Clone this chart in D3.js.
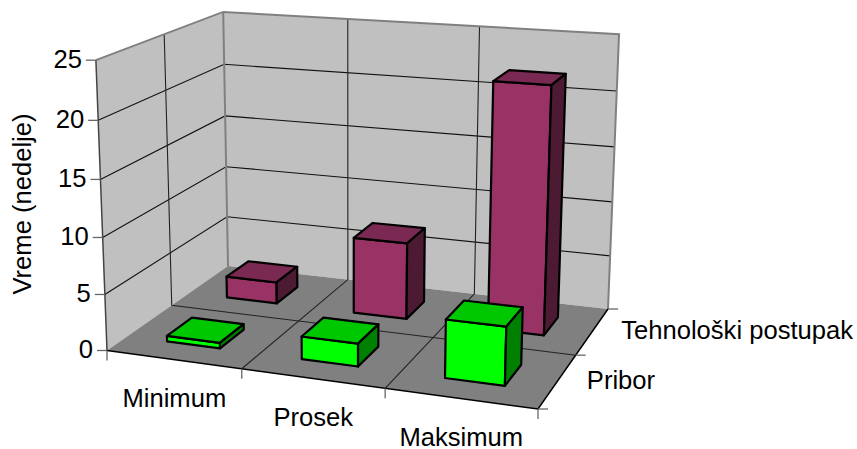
<!DOCTYPE html>
<html>
<head>
<meta charset="utf-8">
<script src="https://cdn.jsdelivr.net/npm/d3@7"></script>
<style>
html,body{margin:0;padding:0;background:#fff}
text{font-family:"Liberation Sans",Arial,sans-serif;fill:#000}
</style>
</head>
<body>
<svg id="chart" width="857" height="449"></svg>
<script>
const categories = ["Minimum", "Prosek", "Maksimum"];
const seriesNames = ["Pribor", "Tehnološki postupak"];
const priborValues = [0.5, 2, 5];
const tehnoloskiValues = [2, 7, 22];
const valueTicks = [0, 5, 10, 15, 20, 25];
const axisTitle = "Vreme (nedelje)";

// Screen positions of the chart box corners; they define the perspective camera.
const boxFloor = {frontLeft:[107,350.5], frontRight:[538,409], backRight:[608,309], backLeft:[228,266]};
const boxTop = {frontLeft:[95,57], backLeft:[224,13], backRight:[619,36]};

// Homography of the unit floor square, (u,v) -> screen.
function floorHomography(a, b, c, d) {
  // a=(0,0) b=(1,0) c=(1,1) d=(0,1)
  const dx1 = b[0]-c[0], dx2 = d[0]-c[0], sx = a[0]-b[0]+c[0]-d[0];
  const dy1 = b[1]-c[1], dy2 = d[1]-c[1], sy = a[1]-b[1]+c[1]-d[1];
  const den = dx1*dy2-dx2*dy1;
  const g = (sx*dy2-dx2*sy)/den, h = (dx1*sy-sx*dy1)/den;
  return [[b[0]-a[0]+g*b[0], d[0]-a[0]+h*d[0], a[0]],
          [b[1]-a[1]+g*b[1], d[1]-a[1]+h*d[1], a[1]],
          [g, h, 1]];
}
const H = floorHomography(boxFloor.frontLeft, boxFloor.frontRight, boxFloor.backRight, boxFloor.backLeft);

// Fit the column of the camera matrix for the vertical axis by least squares.
function fitVertical() {
  const obs = [[0,0,boxTop.frontLeft],[0,1,boxTop.backLeft],[1,1,boxTop.backRight]];
  const A = [[0,0,0],[0,0,0],[0,0,0]], r = [0,0,0];
  const add = (row, rhs) => {
    for (let i=0;i<3;i++){ r[i]+=row[i]*rhs; for(let j=0;j<3;j++) A[i][j]+=row[i]*row[j]; }
  };
  obs.forEach(([u,v,p]) => {
    const n = [0,1,2].map(i => H[i][0]*u+H[i][1]*v+H[i][2]);
    add([1,0,-p[0]], p[0]*n[2]-n[0]);
    add([0,1,-p[1]], p[1]*n[2]-n[1]);
  });
  const det = m => m[0][0]*(m[1][1]*m[2][2]-m[1][2]*m[2][1])-m[0][1]*(m[1][0]*m[2][2]-m[1][2]*m[2][0])+m[0][2]*(m[1][0]*m[2][1]-m[1][1]*m[2][0]);
  const D = det(A);
  return [0,1,2].map(k => det(A.map((row,i) => row.map((x,j) => j===k ? r[i] : x)))/D);
}
const W = fitVertical();

function project(u, v, w) {
  const p = [0,1,2].map(i => H[i][0]*u+H[i][1]*v+H[i][2]+W[i]*w);
  return [p[0]/p[2], p[1]/p[2]];
}

// Data scales onto the unit box.
const xBand = d3.scaleBand().domain(categories).range([0,1]).paddingInner(0.6).paddingOuter(0.3);
const xOuter = d3.scaleBand().domain(categories).range([0,1]);
const zBand = d3.scaleBand().domain(seriesNames).range([0,1]).paddingInner(0.6).paddingOuter(0.3);
const zOuter = d3.scaleBand().domain(seriesNames).range([0,1]);
const yScale = d3.scaleLinear().domain([0,25]).range([0,1]);

const svg = d3.select("#chart");
const path = d3.line();
const poly = pts => path(pts) + "Z";
const seg = (a, b) => path([project(...a), project(...b)]);

// Walls and floor
const walls = svg.append("g");
walls.append("path").attr("fill","#c0c0c0").attr("d",poly([[0,0,0],[0,1,0],[0,1,1],[0,0,1]].map(p=>project(...p))));
walls.append("path").attr("fill","#c0c0c0").attr("d",poly([[0,1,0],[1,1,0],[1,1,1],[0,1,1]].map(p=>project(...p))));
walls.append("path").attr("fill","#808080").attr("d",poly([[0,0,0],[1,0,0],[1,1,0],[0,1,0]].map(p=>project(...p))));

// Gridlines
const grid = svg.append("g").attr("fill","none").attr("stroke","#111").attr("stroke-width",1.1);
valueTicks.filter(t => t > 0 && t < 25).forEach(t => {
  const w = yScale(t);
  grid.append("path").attr("d",path([project(0,0,w),project(0,1,w),project(1,1,w)]));
});
const xSplits = categories.slice(1).map(c => xOuter(c));
const zSplits = seriesNames.slice(1).map(s => zOuter(s));
xSplits.forEach(u => {
  grid.append("path").attr("d",path([project(u,0,0),project(u,1,0),project(u,1,1)])).attr("stroke","#222");
});
zSplits.forEach(v => {
  grid.append("path").attr("d",path([project(1,v,0),project(0,v,0),project(0,v,1)])).attr("stroke","#222");
});

// Box outline
const frame = svg.append("g").attr("fill","none");
frame.append("path").attr("stroke","#808080").attr("stroke-width",2)
  .attr("d",path([project(0,0,1),project(0,1,1),project(1,1,1),project(1,1,0)]));
frame.append("path").attr("stroke","#808080").attr("stroke-width",2).attr("d",seg([0,1,0],[0,1,1]));
frame.append("path").attr("stroke","#444").attr("stroke-width",1.5).attr("d",seg([0,0,0],[0,0,1]));
frame.append("path").attr("stroke","#000").attr("stroke-width",1.5)
  .attr("d",path([project(0,0,0),project(1,0,0),project(1,1,0)]));

// Axis ticks
const ticks = svg.append("g").attr("fill","none").attr("stroke","#666").attr("stroke-width",1.3);
const tickLen = 10;
valueTicks.forEach(t => {
  const [x,y] = project(0,0,yScale(t));
  ticks.append("path").attr("d",path([[x,y],[x-tickLen,y]]));
});
[0, ...xSplits, 1].forEach(u => {
  const [x,y] = project(u,0,0);
  ticks.append("path").attr("d",path([[x,y],[x,y+tickLen]]));
});
[0, ...zSplits, 1].forEach(v => {
  const [x,y] = project(1,v,0);
  ticks.append("path").attr("d",path([[x,y],[x+tickLen,y]]));
});

// Columns, drawn back to front
const palette = {
  "Pribor": {front:"#00ff00", top:"#00c800", side:"#008000"},
  "Tehnološki postupak": {front:"#993366", top:"#7a2952", side:"#4d1a33"}
};
const seriesValues = {"Pribor":priborValues, "Tehnološki postupak":tehnoloskiValues};
const bars = svg.append("g").attr("stroke","#000").attr("stroke-width",2.2).attr("stroke-linejoin","round").attr("transform","translate(0.8,0)");
[...seriesNames].reverse().forEach(s => {
  categories.forEach((c,i) => {
    const u0 = xBand(c), u1 = u0+xBand.bandwidth();
    const v0 = zBand(s), v1 = v0+zBand.bandwidth();
    const w = yScale(seriesValues[s][i]);
    const col = palette[s];
    const face = (pts, fill) => bars.append("path").attr("fill",fill).attr("d",poly(pts.map(p=>project(...p))));
    face([[u0,v0,0],[u1,v0,0],[u1,v0,w],[u0,v0,w]], col.front);
    face([[u0,v0,w],[u1,v0,w],[u1,v1,w],[u0,v1,w]], col.top);
    face([[u1,v0,0],[u1,v1,0],[u1,v1,w],[u1,v0,w]], col.side);
  });
});

// Text
const labels = svg.append("g").attr("font-size",25.6);
valueTicks.forEach(t => {
  const [x,y] = project(0,0,yScale(t));
  labels.append("text").attr("x",x-tickLen-4).attr("y",y-1.5).attr("dy","0.35em").attr("text-anchor","end").text(t);
});
categories.forEach(c => {
  const [x,y] = project(xOuter(c)+xOuter.bandwidth()/2,0,0);
  labels.append("text").attr("x",x+1).attr("y",y+38.5).attr("dy","0.35em").attr("text-anchor","middle").text(c);
});
seriesNames.forEach(s => {
  const v = zOuter(s)+zOuter.bandwidth()/2;
  const [x,y] = project(1,v,0);
  labels.append("text").attr("x",x+29.5-1*v).attr("y",y-1).attr("dy","0.35em").text(s);
});
labels.append("text").attr("transform","translate(22,204) rotate(-90)").attr("dy","0.35em").attr("text-anchor","middle").text(axisTitle);
</script>
</body>
</html>
